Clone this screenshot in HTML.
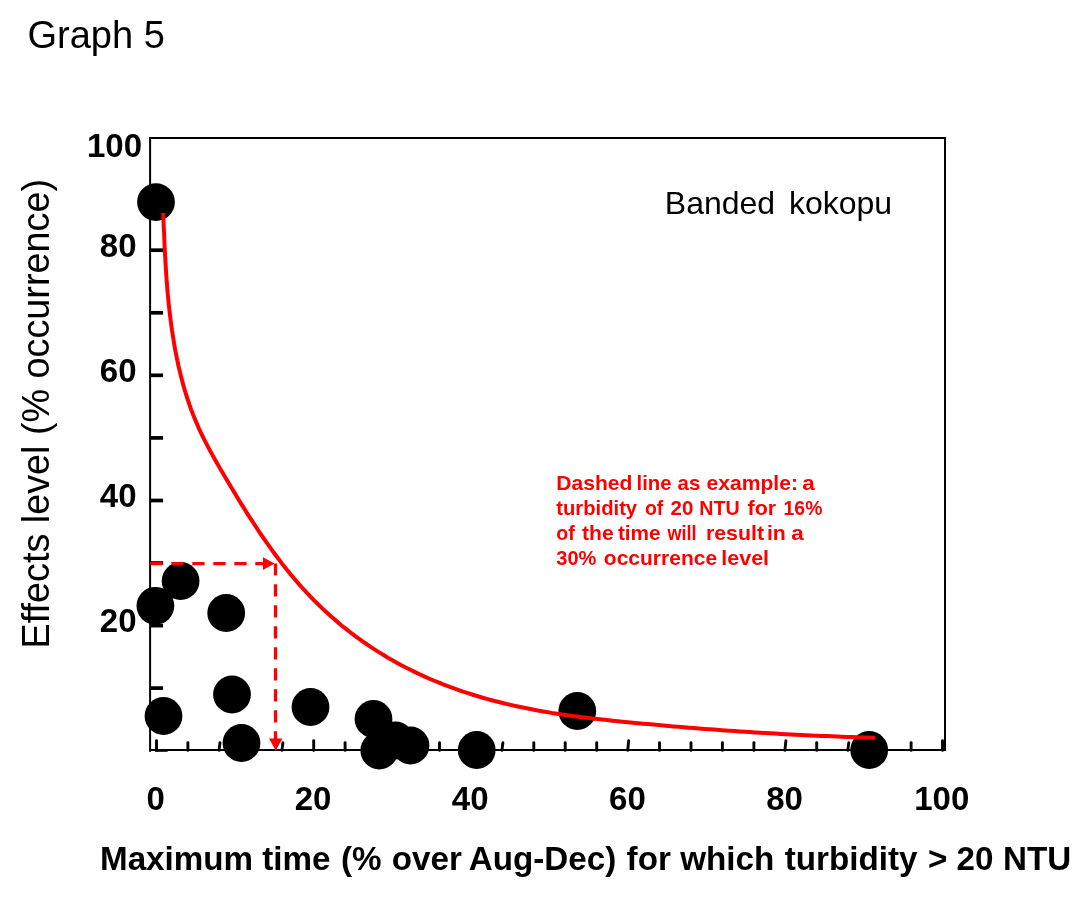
<!DOCTYPE html>
<html><head><meta charset="utf-8"><title>Graph 5</title>
<style>
html,body{margin:0;padding:0;background:#fff;}
body{width:1090px;height:898px;overflow:hidden;font-family:"Liberation Sans",sans-serif;}
svg{display:block;}
text{font-family:"Liberation Sans",sans-serif;}
.b{font-weight:bold;}
</style></head><body>
<svg width="1090" height="898" viewBox="0 0 1090 898">
<rect width="1090" height="898" fill="#fff"/>

<rect x="150.1" y="138" width="794.9" height="612" fill="none" stroke="#000" stroke-width="2"/>
<line x1="150.1" y1="750" x2="150.1" y2="751.8" stroke="#000" stroke-width="2"/>
<line x1="151" y1="688.1" x2="163.1" y2="688.1" stroke="#000" stroke-width="3.7"/>
<line x1="151" y1="625.6" x2="163.1" y2="625.6" stroke="#000" stroke-width="3.7"/>
<line x1="151" y1="563.0" x2="163.1" y2="563.0" stroke="#000" stroke-width="3.7"/>
<line x1="151" y1="500.5" x2="163.1" y2="500.5" stroke="#000" stroke-width="3.7"/>
<line x1="151" y1="437.9" x2="163.1" y2="437.9" stroke="#000" stroke-width="3.7"/>
<line x1="151" y1="375.3" x2="163.1" y2="375.3" stroke="#000" stroke-width="3.7"/>
<line x1="151" y1="312.8" x2="163.1" y2="312.8" stroke="#000" stroke-width="3.7"/>
<line x1="151" y1="250.2" x2="163.1" y2="250.2" stroke="#000" stroke-width="3.7"/>
<line x1="151" y1="187.7" x2="163.1" y2="187.7" stroke="#000" stroke-width="3.7"/>
<rect x="155.2" y="750" width="12.5" height="1.8" fill="#000"/>
<line x1="156.5" y1="750.4" x2="156.5" y2="740.6" stroke="#000" stroke-width="2.9" stroke-linecap="round"/>
<line x1="187.9" y1="750.4" x2="187.9" y2="742.6" stroke="#000" stroke-width="2.9" stroke-linecap="round"/>
<line x1="219.0" y1="750.4" x2="220.0" y2="742.6" stroke="#000" stroke-width="2.9" stroke-linecap="round"/>
<line x1="250.8" y1="750.4" x2="250.8" y2="742.6" stroke="#000" stroke-width="2.9" stroke-linecap="round"/>
<line x1="281.9" y1="750.4" x2="282.9" y2="742.6" stroke="#000" stroke-width="2.9" stroke-linecap="round"/>
<line x1="313.7" y1="750.4" x2="313.7" y2="740.6" stroke="#000" stroke-width="2.9" stroke-linecap="round"/>
<line x1="345.1" y1="750.4" x2="345.1" y2="742.6" stroke="#000" stroke-width="2.9" stroke-linecap="round"/>
<line x1="376.6" y1="750.4" x2="376.6" y2="742.6" stroke="#000" stroke-width="2.9" stroke-linecap="round"/>
<line x1="408.0" y1="750.4" x2="408.0" y2="742.6" stroke="#000" stroke-width="2.9" stroke-linecap="round"/>
<line x1="439.5" y1="750.4" x2="439.5" y2="742.6" stroke="#000" stroke-width="2.9" stroke-linecap="round"/>
<line x1="470.9" y1="750.4" x2="470.9" y2="740.6" stroke="#000" stroke-width="2.9" stroke-linecap="round"/>
<line x1="501.9" y1="750.4" x2="502.9" y2="742.6" stroke="#000" stroke-width="2.9" stroke-linecap="round"/>
<line x1="533.8" y1="750.4" x2="533.8" y2="742.6" stroke="#000" stroke-width="2.9" stroke-linecap="round"/>
<line x1="565.2" y1="750.4" x2="565.2" y2="742.6" stroke="#000" stroke-width="2.9" stroke-linecap="round"/>
<line x1="596.7" y1="750.4" x2="596.7" y2="742.6" stroke="#000" stroke-width="2.9" stroke-linecap="round"/>
<line x1="627.7" y1="750.4" x2="628.7" y2="740.6" stroke="#000" stroke-width="2.9" stroke-linecap="round"/>
<line x1="659.5" y1="750.4" x2="659.5" y2="742.6" stroke="#000" stroke-width="2.9" stroke-linecap="round"/>
<line x1="691.0" y1="750.4" x2="691.0" y2="742.6" stroke="#000" stroke-width="2.9" stroke-linecap="round"/>
<line x1="722.4" y1="750.4" x2="722.4" y2="742.6" stroke="#000" stroke-width="2.9" stroke-linecap="round"/>
<line x1="753.9" y1="750.4" x2="753.9" y2="742.6" stroke="#000" stroke-width="2.9" stroke-linecap="round"/>
<line x1="784.9" y1="750.4" x2="785.9" y2="740.6" stroke="#000" stroke-width="2.9" stroke-linecap="round"/>
<line x1="816.7" y1="750.4" x2="816.7" y2="742.6" stroke="#000" stroke-width="2.9" stroke-linecap="round"/>
<line x1="847.8" y1="750.4" x2="848.8" y2="742.6" stroke="#000" stroke-width="2.9" stroke-linecap="round"/>
<line x1="879.6" y1="750.4" x2="879.6" y2="742.6" stroke="#000" stroke-width="2.9" stroke-linecap="round"/>
<line x1="911.1" y1="750.4" x2="911.1" y2="742.6" stroke="#000" stroke-width="2.9" stroke-linecap="round"/>
<line x1="942.5" y1="750.4" x2="942.5" y2="740.6" stroke="#000" stroke-width="2.9" stroke-linecap="round"/>
<text x="142" y="156.9" font-size="33" class="b" fill="#000" text-anchor="end">100</text>
<text x="136.5" y="257" font-size="33" class="b" fill="#000" text-anchor="end">80</text>
<text x="136.5" y="382" font-size="33" class="b" fill="#000" text-anchor="end">60</text>
<text x="136.5" y="507" font-size="33" class="b" fill="#000" text-anchor="end">40</text>
<text x="136.5" y="632" font-size="33" class="b" fill="#000" text-anchor="end">20</text>
<text x="155.8" y="810.1" font-size="33" class="b" fill="#000" text-anchor="middle">0</text>
<text x="313.0" y="810.1" font-size="33" class="b" fill="#000" text-anchor="middle">20</text>
<text x="470.2" y="810.1" font-size="33" class="b" fill="#000" text-anchor="middle">40</text>
<text x="627.4" y="810.1" font-size="33" class="b" fill="#000" text-anchor="middle">60</text>
<text x="784.6" y="810.1" font-size="33" class="b" fill="#000" text-anchor="middle">80</text>
<text x="941.8" y="810.1" font-size="33" class="b" fill="#000" text-anchor="middle">100</text>
<text x="27.5" y="48" font-size="38" class="n" fill="#000" text-anchor="start">Graph 5</text>
<text x="664.8" y="214.4" font-size="32" class="n" fill="#000" text-anchor="start">Banded</text>
<text x="788.9" y="214.4" font-size="32" class="n" fill="#000" text-anchor="start">kokopu</text>
<text x="100.0" y="869.7" font-size="33.2" class="b" fill="#000" text-anchor="start">Maximum</text>
<text x="262.2" y="869.7" font-size="33.2" class="b" fill="#000" text-anchor="start">time</text>
<text x="340.9" y="869.7" font-size="33.2" class="b" fill="#000" text-anchor="start">(%</text>
<text x="391.8" y="869.7" font-size="33.2" class="b" fill="#000" text-anchor="start">over</text>
<text x="468.7" y="869.7" font-size="33.2" class="b" fill="#000" text-anchor="start">Aug-Dec)</text>
<text x="626.6" y="869.7" font-size="33.2" class="b" fill="#000" text-anchor="start">for</text>
<text x="680.2" y="869.7" font-size="33.2" class="b" fill="#000" text-anchor="start">which</text>
<text x="784.7" y="869.7" font-size="33.2" class="b" fill="#000" text-anchor="start">turbidity</text>
<text x="928.0" y="869.7" font-size="33.2" class="b" fill="#000" text-anchor="start">&gt;</text>
<text x="956.6" y="869.7" font-size="33.2" class="b" fill="#000" text-anchor="start">20</text>
<text x="1003.1" y="869.7" font-size="33.2" class="b" fill="#000" text-anchor="start">NTU</text>
<g transform="translate(48.7,648.4) rotate(-90) scale(0.981,1)">
<text x="0" y="0" font-size="38.5" class="n" fill="#000" text-anchor="start">Effects level (% occurrence)</text>
</g>
<circle cx="156" cy="202.1" r="18.9" fill="#000"/>
<circle cx="155.4" cy="605.8" r="18.9" fill="#000"/>
<circle cx="180.6" cy="581" r="18.9" fill="#000"/>
<circle cx="226.2" cy="613" r="18.9" fill="#000"/>
<circle cx="232" cy="694.5" r="18.9" fill="#000"/>
<circle cx="163.5" cy="716" r="18.9" fill="#000"/>
<circle cx="241.5" cy="743" r="18.9" fill="#000"/>
<circle cx="310.5" cy="707" r="18.9" fill="#000"/>
<circle cx="373.5" cy="719" r="18.9" fill="#000"/>
<circle cx="379.3" cy="750.5" r="18.9" fill="#000"/>
<circle cx="395.5" cy="740.5" r="18.9" fill="#000"/>
<circle cx="410.5" cy="745.5" r="18.9" fill="#000"/>
<circle cx="476.7" cy="750" r="18.9" fill="#000"/>
<circle cx="577.3" cy="711" r="18.9" fill="#000"/>
<circle cx="869.2" cy="750" r="18.9" fill="#000"/>
<path d="M163.2,213.0 L163.4,218.1 L163.6,223.2 L163.8,228.3 L164.1,233.4 L164.3,238.5 L164.5,243.6 L164.7,248.7 L165.0,253.8 L165.3,258.9 L165.6,264.0 L165.9,269.1 L166.2,274.2 L166.6,279.3 L167.0,284.4 L167.4,289.5 L167.8,294.6 L168.3,299.7 L168.8,304.8 L169.4,309.9 L170.0,314.9 L170.6,320.0 L171.3,325.1 L172.0,330.2 L172.8,335.2 L173.6,340.3 L174.4,345.3 L175.3,350.4 L176.3,355.4 L177.3,360.4 L178.4,365.5 L179.6,370.5 L180.8,375.4 L182.1,380.4 L183.4,385.4 L184.8,390.3 L186.3,395.2 L187.9,400.0 L189.5,404.9 L191.2,409.7 L193.0,414.4 L194.9,419.1 L196.9,423.8 L198.9,428.5 L201.1,433.1 L203.3,437.6 L205.6,442.1 L207.9,446.6 L210.3,451.1 L212.8,455.6 L215.2,460.0 L217.8,464.4 L220.3,468.9 L222.9,473.3 L225.5,477.7 L228.1,482.1 L230.7,486.5 L233.4,490.9 L236.0,495.3 L238.7,499.7 L241.4,504.1 L244.1,508.4 L246.8,512.8 L249.6,517.1 L252.4,521.4 L255.2,525.7 L258.0,530.0 L260.9,534.3 L263.8,538.5 L266.7,542.7 L269.7,546.9 L272.7,551.1 L275.7,555.2 L278.8,559.3 L281.9,563.4 L285.1,567.4 L288.3,571.4 L291.5,575.4 L294.8,579.3 L298.1,583.1 L301.5,587.0 L304.9,590.7 L308.4,594.5 L311.9,598.1 L315.5,601.8 L319.1,605.3 L322.8,608.9 L326.5,612.3 L330.3,615.8 L334.1,619.1 L338.0,622.4 L341.9,625.7 L345.9,628.9 L349.9,632.0 L354.0,635.1 L358.1,638.1 L362.2,641.1 L366.4,644.0 L370.6,646.9 L374.9,649.6 L379.2,652.4 L383.6,655.0 L387.9,657.7 L392.4,660.2 L396.8,662.7 L401.3,665.2 L405.8,667.5 L410.4,669.8 L415.0,672.1 L419.6,674.3 L424.2,676.4 L428.9,678.5 L433.6,680.5 L438.4,682.4 L443.1,684.3 L447.9,686.1 L452.7,687.9 L457.5,689.6 L462.3,691.3 L467.2,692.9 L472.1,694.5 L477.0,696.0 L481.9,697.5 L486.8,698.9 L491.7,700.2 L496.7,701.5 L501.7,702.8 L506.6,704.0 L511.6,705.1 L516.6,706.2 L521.6,707.3 L526.6,708.3 L531.6,709.3 L536.6,710.3 L541.7,711.2 L546.7,712.0 L551.7,712.9 L556.8,713.7 L561.8,714.4 L566.9,715.2 L571.9,715.9 L577.0,716.5 L582.0,717.2 L587.1,717.8 L592.2,718.4 L597.2,719.0 L602.3,719.6 L607.4,720.1 L612.5,720.7 L617.6,721.2 L622.6,721.7 L627.7,722.2 L632.8,722.7 L637.9,723.2 L643.0,723.7 L648.1,724.1 L653.2,724.6 L658.3,725.1 L663.4,725.5 L668.5,726.0 L673.5,726.4 L678.6,726.8 L683.7,727.2 L688.8,727.7 L693.9,728.1 L699.0,728.5 L704.1,728.9 L709.2,729.2 L714.3,729.6 L719.4,730.0 L724.5,730.4 L729.6,730.7 L734.7,731.1 L739.8,731.4 L744.9,731.8 L750.0,732.1 L755.1,732.4 L760.2,732.7 L765.3,733.0 L770.4,733.3 L775.5,733.6 L780.6,733.9 L785.7,734.2 L790.9,734.4 L796.0,734.7 L801.1,735.0 L806.2,735.2 L811.3,735.4 L816.4,735.7 L821.5,735.9 L826.6,736.1 L831.7,736.3 L836.8,736.5 L841.9,736.7 L847.0,736.9 L852.1,737.1 L857.2,737.3 L862.3,737.4 L867.4,737.6 L872.5,737.7 L875.1,737.8" fill="none" stroke="#f00" stroke-width="4" stroke-linejoin="round"/>
<line x1="150.3" y1="563.6" x2="264" y2="563.6" stroke="#f00" stroke-width="3.3" stroke-dasharray="12.3 8.7"/>
<polygon points="263,557.2 274.5,563.6 263,570" fill="#f00"/>
<line x1="275.5" y1="563.4" x2="275.5" y2="739" stroke="#f00" stroke-width="3.3" stroke-dasharray="12.2 8.7 12.3 8.7 12.3 8.7 12.3 8.7 12.3 8.7 12.3 8.7 12.3 8.7 12.3 8.7 12.3 8.7"/>
<polygon points="269,738.5 282.5,738.5 275.7,750.5" fill="#f00"/>
<text x="556.3" y="489.7" font-size="19.3" class="b" fill="#f00" textLength="76.1" lengthAdjust="spacingAndGlyphs">Dashed</text>
<text x="636.5" y="489.7" font-size="19.3" class="b" fill="#f00" textLength="35.0" lengthAdjust="spacingAndGlyphs">line</text>
<text x="677.6" y="489.7" font-size="19.3" class="b" fill="#f00" textLength="22.8" lengthAdjust="spacingAndGlyphs">as</text>
<text x="706.5" y="489.7" font-size="19.3" class="b" fill="#f00" textLength="91.5" lengthAdjust="spacingAndGlyphs">example:</text>
<text x="802.2" y="489.7" font-size="19.3" class="b" fill="#f00" textLength="12.5" lengthAdjust="spacingAndGlyphs">a</text>
<text x="556.3" y="514.8" font-size="19.3" class="b" fill="#f00" textLength="80.8" lengthAdjust="spacingAndGlyphs">turbidity</text>
<text x="644.9" y="514.8" font-size="19.3" class="b" fill="#f00" textLength="18.4" lengthAdjust="spacingAndGlyphs">of</text>
<text x="670.6" y="514.8" font-size="19.3" class="b" fill="#f00" textLength="22.8" lengthAdjust="spacingAndGlyphs">20</text>
<text x="699.2" y="514.8" font-size="19.3" class="b" fill="#f00" textLength="40.4" lengthAdjust="spacingAndGlyphs">NTU</text>
<text x="747.6" y="514.8" font-size="19.3" class="b" fill="#f00" textLength="28.6" lengthAdjust="spacingAndGlyphs">for</text>
<text x="783.6" y="514.8" font-size="19.3" class="b" fill="#f00" textLength="38.8" lengthAdjust="spacingAndGlyphs">16%</text>
<text x="556.3" y="539.5" font-size="19.3" class="b" fill="#f00" textLength="18.5" lengthAdjust="spacingAndGlyphs">of</text>
<text x="582.0" y="539.5" font-size="19.3" class="b" fill="#f00" textLength="31.7" lengthAdjust="spacingAndGlyphs">the</text>
<text x="617.9" y="539.5" font-size="19.3" class="b" fill="#f00" textLength="42.7" lengthAdjust="spacingAndGlyphs">time</text>
<text x="667.4" y="539.5" font-size="19.3" class="b" fill="#f00" textLength="29.2" lengthAdjust="spacingAndGlyphs">will</text>
<text x="705.9" y="539.5" font-size="19.3" class="b" fill="#f00" textLength="58.1" lengthAdjust="spacingAndGlyphs">result</text>
<text x="766.9" y="539.5" font-size="19.3" class="b" fill="#f00" textLength="18.9" lengthAdjust="spacingAndGlyphs">in</text>
<text x="791.3" y="539.5" font-size="19.3" class="b" fill="#f00" textLength="12.5" lengthAdjust="spacingAndGlyphs">a</text>
<text x="556.3" y="564.5" font-size="19.3" class="b" fill="#f00" textLength="40.1" lengthAdjust="spacingAndGlyphs">30%</text>
<text x="603.8" y="564.5" font-size="19.3" class="b" fill="#f00" textLength="113.3" lengthAdjust="spacingAndGlyphs">occurrence</text>
<text x="721.3" y="564.5" font-size="19.3" class="b" fill="#f00" textLength="47.8" lengthAdjust="spacingAndGlyphs">level</text>
</svg></body></html>
